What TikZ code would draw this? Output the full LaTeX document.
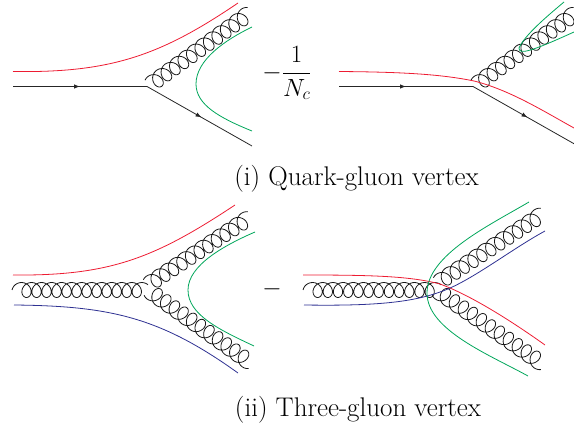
\documentclass[tikz,border=0pt]{standalone}
\usetikzlibrary{calc,decorations.markings,arrows.meta}
\definecolor{cr}{RGB}{237,28,50}
\definecolor{cg}{RGB}{0,166,90}
\definecolor{cb}{RGB}{46,49,146}
\tikzset{
  quark/.style={draw=black!85,line width=0.8pt},
  arrowed/.style={quark,postaction={decorate},decoration={markings,mark=at position #1 with {\arrow{Latex[length=6pt,width=4.5pt]}}}},
  gluon/.style={draw=black!90,line width=0.8pt,line join=round},
  redline/.style={draw=cr,line width=0.8pt},
  greenline/.style={draw=cg,line width=0.8pt},
  blueline/.style={draw=cb,line width=0.8pt},
  captext/.style={inner sep=0pt,font=\fontsize{27}{32}\selectfont}
}
% #1 from, #2 to, #3 loops, #4 side of the connecting arcs, #5 start phase, #6 half height
\newcommand\gluonline[6]{%
  \path let \p1=($(#2)-(#1)$), \n1={veclen(\x1,\y1)}, \n2={atan2(\y1,\x1)} in
    \pgfextra{\xdef\glen{\n1}\xdef\gang{\n2}};
  \pgfmathsetmacro\gA{7}
  \pgfmathsetmacro\gB{#6}
  \pgfmathsetmacro\gS{(\glen-1.707*\gA)/(#3+0.375)}
  \pgfmathsetmacro\gEnd{6.28318*(#3+0.375)}
  \pgfmathtruncatemacro\gN{24*#3}
  \begin{scope}[shift={(#1)},rotate=\gang]
    \draw[gluon] plot[domain=#5:\gEnd,samples=\gN,variable=\t]
      ({\gS*\t/6.28318+\gA-\gA*cos(\t r)},{-(#4)*\gB*sin(\t r)});
  \end{scope}
}
\begin{document}
\begin{tikzpicture}[x=1pt,y=-1pt]
\useasboundingbox (0,0) rectangle (574,425);
\clip (0,0) rectangle (574,425);
% panel (i) left
\coordinate (a1) at (13,86.5);
\coordinate (v1) at (147,86.5);
\coordinate (b1) at (252,146);
\coordinate (gs1) at (145,88.5);
\coordinate (ge1) at (251,12);
\path[arrowed=0.5] (a1) -- (v1);
\path[arrowed=0.52] (v1) -- (b1);
\gluonline{gs1}{ge1}{11}{1}{1}{8}
\draw[redline] (13,71.5) .. controls (110,73) and (160,56) .. (238,3);
\draw[greenline] (252,27) .. controls (225,40) and (196,60) .. (196,84) .. controls (196,105) and (220,118) .. (252,131);
% panel (i) right
\coordinate (a2) at (339,86.5);
\coordinate (v2) at (473,86.5);
\coordinate (b2) at (578,146);
\coordinate (gs2) at (471,88.5);
\coordinate (ge2) at (577,12);
\path[arrowed=0.5] (a2) -- (v2);
\path[arrowed=0.52] (v2) -- (b2);
\gluonline{gs2}{ge2}{11}{1}{1}{8}
\draw[redline] (339,71.5) .. controls (400,72) and (440,74) .. (474,81) .. controls (510,90) and (545,112) .. (574,128);
\draw[greenline] (564,2) .. controls (545,18) and (525,35) .. (519,48) .. controls (519,55) and (530,52) .. (574,32);
% panel (ii) left
\coordinate (a3) at (12,290);
\coordinate (v3) at (148,290);
\coordinate (us3) at (143,288);
\coordinate (u3) at (251,216.5);
\coordinate (ds3) at (144,287);
\coordinate (d3) at (252,364);
\gluonline{a3}{v3}{12}{1}{0}{7.5}
\gluonline{us3}{u3}{11}{1}{1}{8}
\gluonline{ds3}{d3}{11}{-1}{1}{8}
\draw[redline] (13,275) .. controls (110,276) and (155,258) .. (235,205);
\draw[blueline] (14,305) .. controls (110,306) and (160,317) .. (238,373);
\draw[greenline] (255,232) .. controls (225,245) and (188,265) .. (188,290) .. controls (188,315) and (220,330) .. (254,346);
% panel (ii) right
\coordinate (a4) at (303,290);
\coordinate (v4) at (441,290);
\coordinate (us4) at (433,286);
\coordinate (u4) at (544,213);
\coordinate (ds4) at (432,287);
\coordinate (d4) at (544,365);
\gluonline{a4}{v4}{12}{1}{0}{7.5}
\gluonline{us4}{u4}{11}{1}{1}{8}
\gluonline{ds4}{d4}{11}{-1}{1}{8}
\draw[redline] (303,275) .. controls (370,275) and (410,276) .. (440,284) .. controls (470,295) and (510,320) .. (545,345);
\draw[blueline] (304,305) .. controls (370,306) and (410,303) .. (440,292) .. controls (470,282) and (510,250) .. (545,231);
\draw[greenline] (529,202) .. controls (490,225) and (427,255) .. (427,293) .. controls (427,330) and (490,355) .. (528,376);
% text
\node[captext] (t1) at (287,73) {$\displaystyle -\frac{1}{N_c}$};
\node[captext] (t2) at (272,289) {$-$};
\node[captext] (c1) at (356.5,179) {(i) Quark-gluon vertex};
\node[captext] (c2) at (358,410) {(ii) Three-gluon vertex};
\end{tikzpicture}
\end{document}
